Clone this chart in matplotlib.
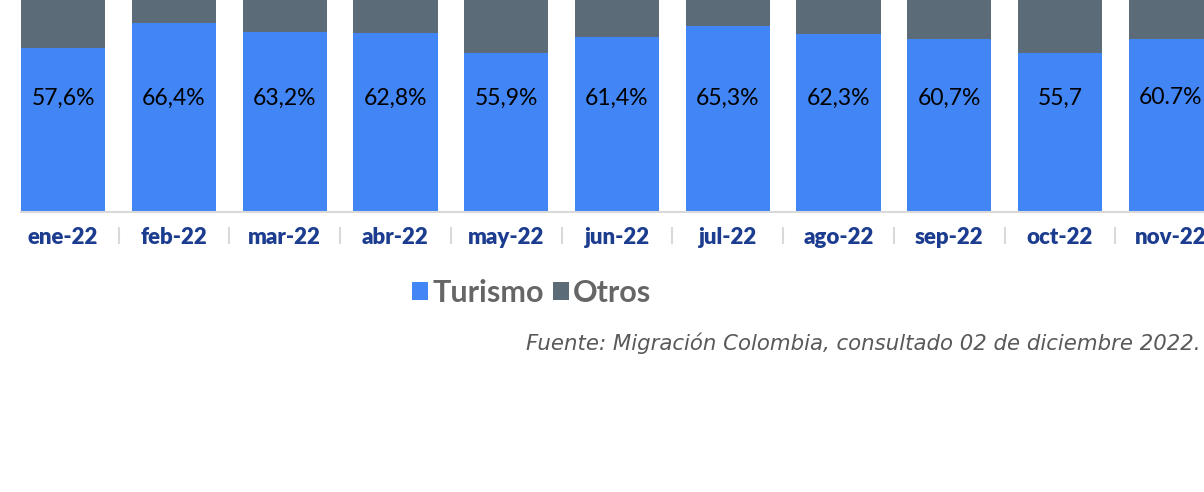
import matplotlib
matplotlib.use('Agg')
import matplotlib.pyplot as plt
import numpy as np

plt.rcParams['font.family'] = ['Lato', 'DejaVu Sans']

# Datos
meses = ["ene-22", "feb-22", "mar-22", "abr-22", "may-22", "jun-22",
         "jul-22", "ago-22", "sep-22", "oct-22", "nov-22"]
turismo = [57.6, 66.4, 63.2, 62.8, 55.9, 61.4, 65.3, 62.3, 60.7, 55.7, 60.7]
etiquetas = ["57,6%", "66,4%", "63,2%", "62,8%", "55,9%", "61,4%",
             "65,3%", "62,3%", "60,7%", "55,7", "60.7%"]
otros = [100 - t for t in turismo]

azul = "#4285F4"
gris = "#5B6B77"

fig = plt.figure(figsize=(12.04, 4.92), dpi=100)
# el eje se sale por arriba: la imagen original esta recortada
ax = fig.add_axes([0, 0.5691, 1, 0.5793])
ax.patch.set_alpha(0)

x = np.arange(len(meses))
b1 = ax.bar(x, turismo, width=0.76, color=azul, label="Turismo")
b2 = ax.bar(x, otros, width=0.76, bottom=turismo, color=gris, label="Otros")

for xi, txt in zip(x, etiquetas):
    ax.text(xi, 40, txt, ha="center", va="center", fontsize=16.5, color="black")

ax.set_xlim(-0.57, 10.3)
ax.set_ylim(0, 100)
ax.set_yticks([])
ax.set_xticks(x)
ax.set_xticklabels(meses, fontsize=16, fontweight="heavy", color="#1C3D8F")
ax.tick_params(axis="x", length=0, pad=10.5)
for s in ["top", "left", "right"]:
    ax.spines[s].set_visible(False)
ax.spines["bottom"].set_color("#D9D9D9")
ax.spines["bottom"].set_linewidth(1.5)
ax.spines["bottom"].set_bounds(-0.38, 10.3)

# separadores entre categorias
trans = ax.get_xaxis_transform()
for xs in x[:-1] + 0.5:
    ax.plot([xs, xs], [-0.056, -0.109], color="#D9D9D9", lw=1.5,
            transform=trans, clip_on=False)

leg = fig.legend(handles=[b1, b2], loc="center", bbox_to_anchor=(0.4415, 0.4045),
                 ncol=2, frameon=False, handlelength=0.52, handleheight=0.52,
                 handletextpad=0.15, columnspacing=0.3,
                 prop={"size": 22, "weight": "bold"})
for t in leg.get_texts():
    t.set_color("#666666")

fig.text(0.9975, 0.303, "Fuente: Migración Colombia, consultado 02 de diciembre 2022.",
         ha="right", va="center", fontsize=15.3, style="italic", color="#595959",
         family=["DejaVu Sans"])

fig.savefig("out.png", dpi=100)
